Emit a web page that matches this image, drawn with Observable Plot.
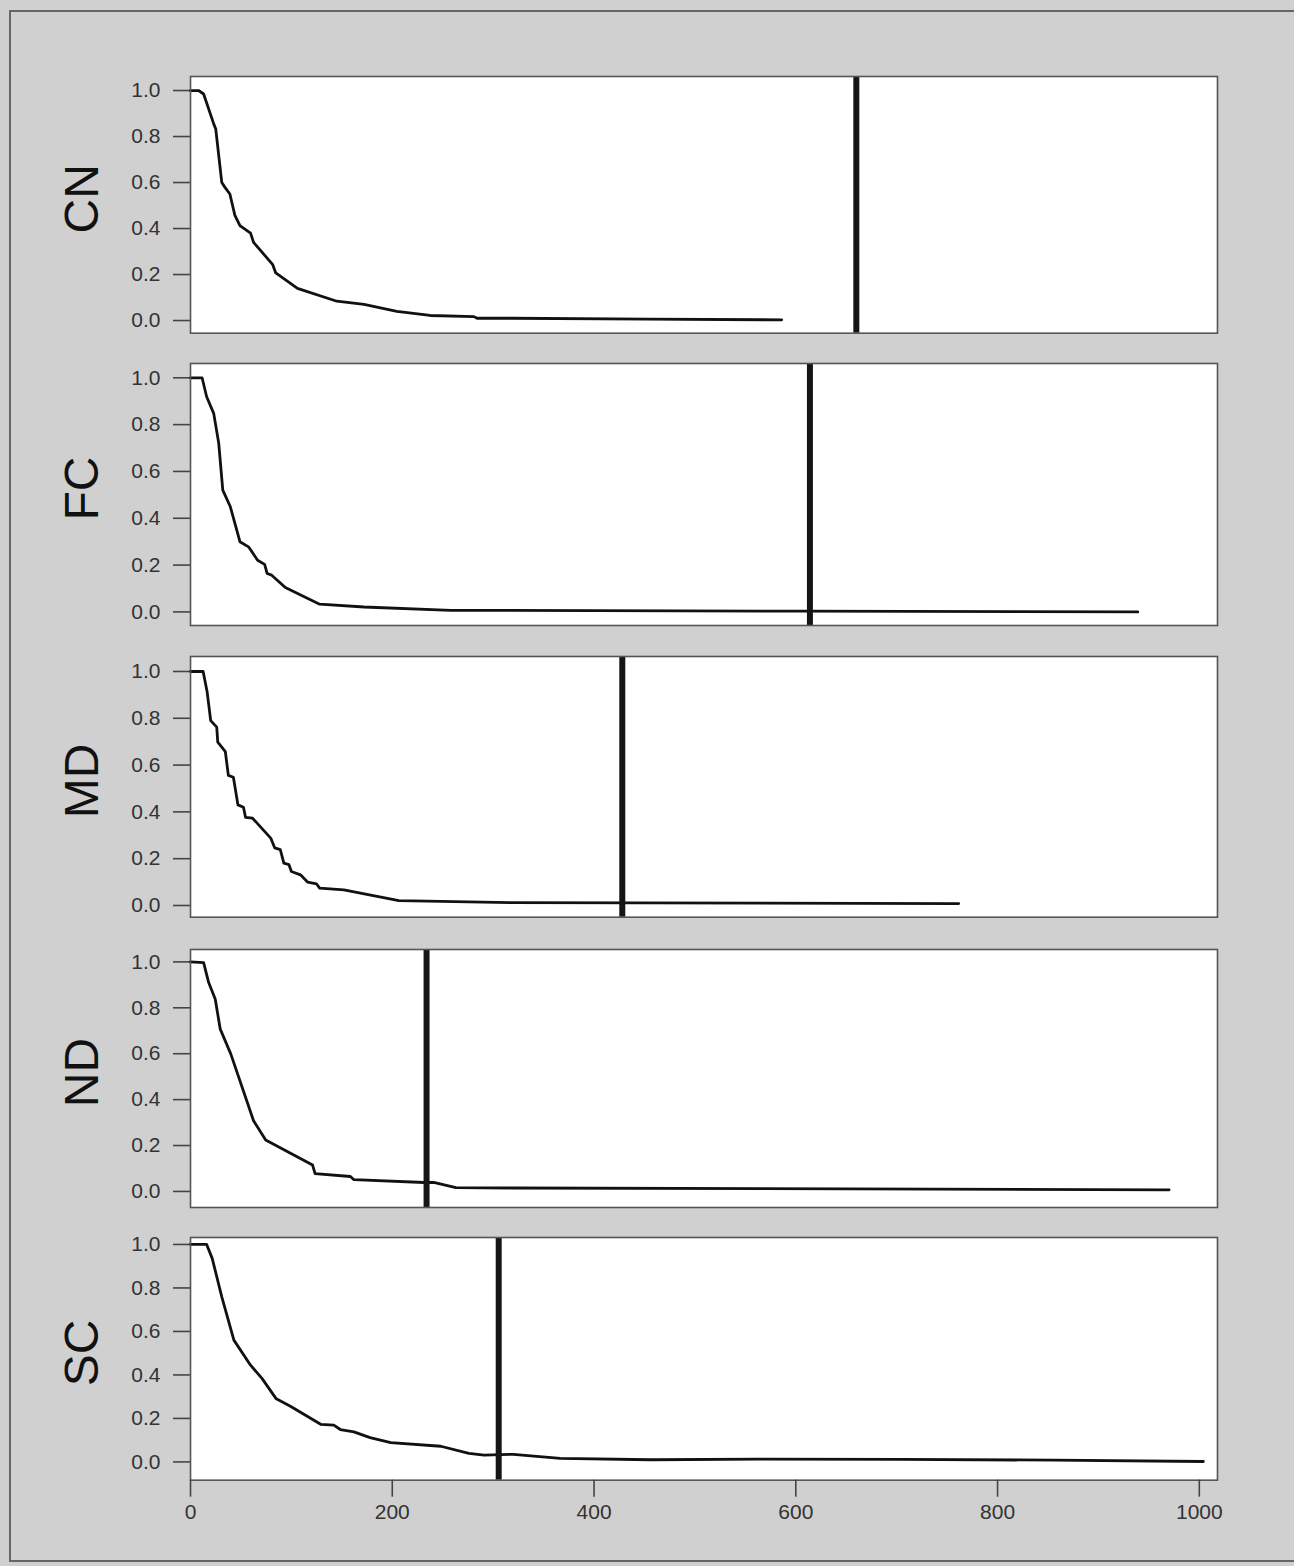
<!DOCTYPE html>
<html>
<head>
<meta charset="utf-8">
<script src="https://cdn.jsdelivr.net/npm/d3@7"></script>
<script src="https://cdn.jsdelivr.net/npm/@observablehq/plot@0.6"></script>
<style>
  html, body { margin: 0; padding: 0; background: #d0d0d0; }
  #page { position: relative; width: 1294px; height: 1566px; background: #d0d0d0; overflow: hidden; }
  #border { position: absolute; left: 9px; top: 10px; width: 1290px; height: 1552px; border: 2px solid #666; box-sizing: border-box; }
  .panel { position: absolute; left: 0; }
</style>
</head>
<body>
<div id="page"><div id="border"></div></div>
<script>
// ---- data ----
const panelNames = ["CN", "FC", "MD", "ND", "SC"];
const xTicks = [0, 200, 400, 600, 800, 1000];
const yTicks = [0, 0.2, 0.4, 0.6, 0.8, 1.0];

const cnX = [0, 8, 13, 23, 25, 31, 34, 39, 44, 49, 59.5, 62.5, 81.5, 84.5, 106, 145, 172, 204.5, 237.5, 281, 284, 317, 453, 586];
const cnY = [1.0, 1.0, 0.985, 0.855, 0.833, 0.60, 0.58, 0.55, 0.457, 0.413, 0.38, 0.34, 0.243, 0.207, 0.14, 0.084, 0.07, 0.04, 0.022, 0.017, 0.01, 0.01, 0.006, 0.003];

const fcX = [0, 11.5, 16, 23, 28, 32, 39.5, 49, 57.5, 66.5, 73.5, 76, 80.5, 94, 128, 172, 258, 604, 939];
const fcY = [1.0, 1.0, 0.919, 0.848, 0.72, 0.52, 0.449, 0.30, 0.278, 0.221, 0.203, 0.164, 0.157, 0.104, 0.033, 0.021, 0.007, 0.003, 0.0];

const mdX = [0, 12.5, 16.5, 20, 26, 27, 34.5, 37.5, 42.5, 47, 52.5, 54.5, 61.5, 79.5, 83.5, 89, 92.5, 97.5, 100, 109, 116, 125, 128, 152, 206.5, 317, 761.5];
const mdY = [1.0, 1.0, 0.912, 0.79, 0.762, 0.698, 0.658, 0.556, 0.548, 0.43, 0.42, 0.377, 0.373, 0.288, 0.246, 0.239, 0.181, 0.175, 0.145, 0.131, 0.10, 0.092, 0.074, 0.067, 0.021, 0.012, 0.008];

const ndX = [0, 13, 18, 24.5, 29.5, 40, 62.5, 74.5, 121, 123.5, 158.5, 162, 231.5, 241, 263, 317, 970];
const ndY = [1.0, 0.997, 0.91, 0.838, 0.707, 0.598, 0.308, 0.224, 0.115, 0.078, 0.065, 0.051, 0.039, 0.039, 0.017, 0.015, 0.007];

const scX = [0, 16, 21.5, 31, 43, 59.5, 71, 85, 99, 129, 142, 148.5, 162, 178, 198.5, 248, 276, 291, 320, 366.5, 456, 564, 705, 856, 1004];
const scY = [1.0, 1.0, 0.936, 0.759, 0.56, 0.445, 0.383, 0.29, 0.256, 0.173, 0.169, 0.149, 0.138, 0.112, 0.089, 0.072, 0.039, 0.031, 0.035, 0.016, 0.01, 0.013, 0.012, 0.008, 0.002];

const cutoffs = [660, 614, 428, 234, 305.5];

const seriesX = [cnX, fcX, mdX, ndX, scX];
const seriesY = [cnY, fcY, mdY, ndY, scY];

// ---- layout (pixel geometry of each panel frame) ----
const layout = [
  {top: 76,    bottom: 332.7,  yLo: -0.055, yHi: 1.061},
  {top: 363.3, bottom: 625.3,  yLo: -0.058, yHi: 1.061},
  {top: 656,   bottom: 916.7,  yLo: -0.050, yHi: 1.064},
  {top: 948.7, bottom: 1206.7, yLo: -0.070, yHi: 1.054},
  {top: 1237.3, bottom: 1480,  yLo: -0.084, yHi: 1.032}
];
const xDomain = [0, 1018];
const W = 1294, ML = 190, MR = 77, PAD = 20, PADB = 70;
const font = "'Liberation Sans', Arial, Helvetica, sans-serif";

const page = document.getElementById("page");
panelNames.forEach((name, i) => {
  const L = layout[i];
  const last = i === panelNames.length - 1;
  const mb = last ? PADB : PAD;
  const data = seriesX[i].map((x, k) => ({x, y: seriesY[i][k]}));
  const marks = [
    Plot.frame({fill: "white"}),
    Plot.axisY(yTicks, {label: null, tickSize: 17, tickPadding: 13, tickFormat: d => d.toFixed(1), fontSize: 21, stroke: "#444", strokeWidth: 1.6, fill: "#333"}),
    Plot.line(data, {x: "x", y: "y", stroke: "#111", strokeWidth: 2.8, strokeLinejoin: "round"}),
    Plot.ruleX([cutoffs[i]], {stroke: "#151515", strokeWidth: 6}),
    Plot.frame({stroke: "#555", strokeWidth: 1.6}),
    Plot.text([name], {text: d => d, frameAnchor: "left", textAnchor: "middle", dx: -108, dy: -6, rotate: -90, fontSize: 48, fill: "#111"})
  ];
  if (last) {
    marks.push(Plot.axisX(xTicks, {label: null, tickSize: 17, tickPadding: 7, tickFormat: d => String(d), fontSize: 21, stroke: "#444", strokeWidth: 1.6, fill: "#333"}));
  }
  const chart = Plot.plot({
    width: W,
    height: (L.bottom - L.top) + PAD + mb,
    marginLeft: ML,
    marginRight: MR,
    marginTop: PAD,
    marginBottom: mb,
    style: {background: "transparent", fontFamily: font, color: "#333", overflow: "visible"},
    x: {domain: xDomain, axis: last ? undefined : null},
    y: {domain: [L.yLo, L.yHi], axis: null},
    marks
  });
  const wrap = document.createElement("div");
  wrap.className = "panel";
  wrap.style.top = (L.top - PAD) + "px";
  wrap.appendChild(chart);
  page.appendChild(wrap);
});
</script>
</body>
</html>
